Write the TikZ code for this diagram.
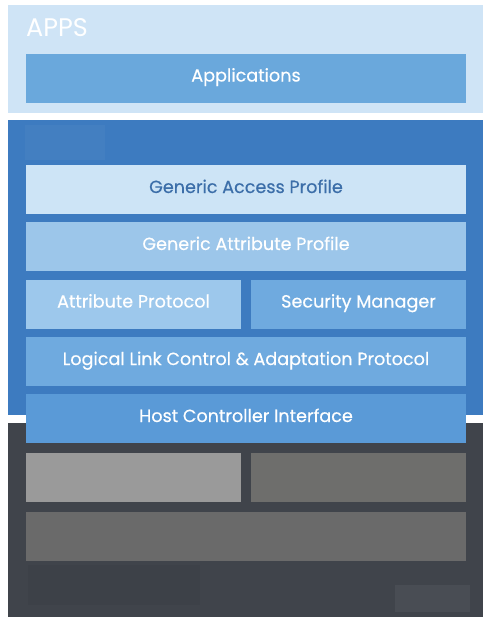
\documentclass[tikz,border=0pt]{standalone}
\usepackage{fontspec}
\setmainfont{Poppins}[FakeBold=0.4]
\definecolor{appsbg}{HTML}{CFE4F6}
\definecolor{appbox}{HTML}{6AA8DC}
\definecolor{hostbg}{HTML}{3D7BC0}
\definecolor{gapbox}{HTML}{CDE4F6}
\definecolor{gaptext}{HTML}{3C6EA9}
\definecolor{gattbox}{HTML}{9CC6EA}
\definecolor{attbox}{HTML}{9DC8EC}
\definecolor{smbox}{HTML}{6FAADF}
\definecolor{hcibox}{HTML}{5A9AD7}
\definecolor{ctrlbg}{HTML}{40444B}
\tikzset{
  layer/.style={rectangle, inner sep=0pt, text=white,
    text height=12pt, text depth=5pt,
    minimum height=49, font=\fontsize{17.6}{20}\selectfont},
  wide/.style={layer, minimum width=440},
  half/.style={layer, minimum width=215},
  panel/.style={inner sep=0pt, minimum width=475}
}
\begin{document}
\begin{tikzpicture}[x=1pt,y=-1pt]
        \useasboundingbox[fill=white] (0,0) rectangle (490,622);
        % panels
        \node[panel, fill=appsbg, minimum height=108] (apps) at (245.5,59) {};
        \node[panel, fill=hostbg, minimum height=295] (host) at (245.5,267.5) {};
        \node[panel, fill=ctrlbg, minimum height=194] (ctrl) at (245.5,520) {};
        \node[anchor=base west, inner sep=0pt, text=white,
              font=\addfontfeature{FakeBold=0}\fontsize{25.5}{28}\selectfont] (appslbl) at (26,36) {APPS};
        
        \fill[white, opacity=0.03] (25,125) rectangle (105,160);
        \fill[black, opacity=0.04] (28,565) rectangle (200,605);
        \fill[white, opacity=0.05] (395,585) rectangle (470,612);
        
        % host layers
        \node[wide, fill=appbox] (app) at (246,78) {Applications};
        \node[wide, fill=gapbox, text=gaptext] (gap) at (246,189.5) {Generic Access Profile};
        \node[wide, fill=gattbox] (gatt) at (246,246.5) {Generic Attribute Profile};
        \node[half, fill=attbox] (att) at (133.5,304) {Attribute Protocol};
        \node[half, fill=smbox] (sm) at (358.5,304) {Security Manager};
        \node[wide, fill=smbox] (l2cap) at (246,361.5) {Logical Link Control \& Adaptation Protocol};
        \node[wide, fill=hcibox] (hci) at (246,418.5) {Host Controller Interface};
        
        % controller layers
        \node[half, fill={rgb,255:red,154;green,154;blue,154}] (phyl) at (133.5,477.5) {};
        \node[half, fill={rgb,255:red,110;green,110;blue,108}] (phyr) at (358.5,477.5) {};
        \node[wide, fill={rgb,255:red,106;green,106;blue,106}] (ll) at (246,536.5) {};
      \end{tikzpicture}
\end{document}
